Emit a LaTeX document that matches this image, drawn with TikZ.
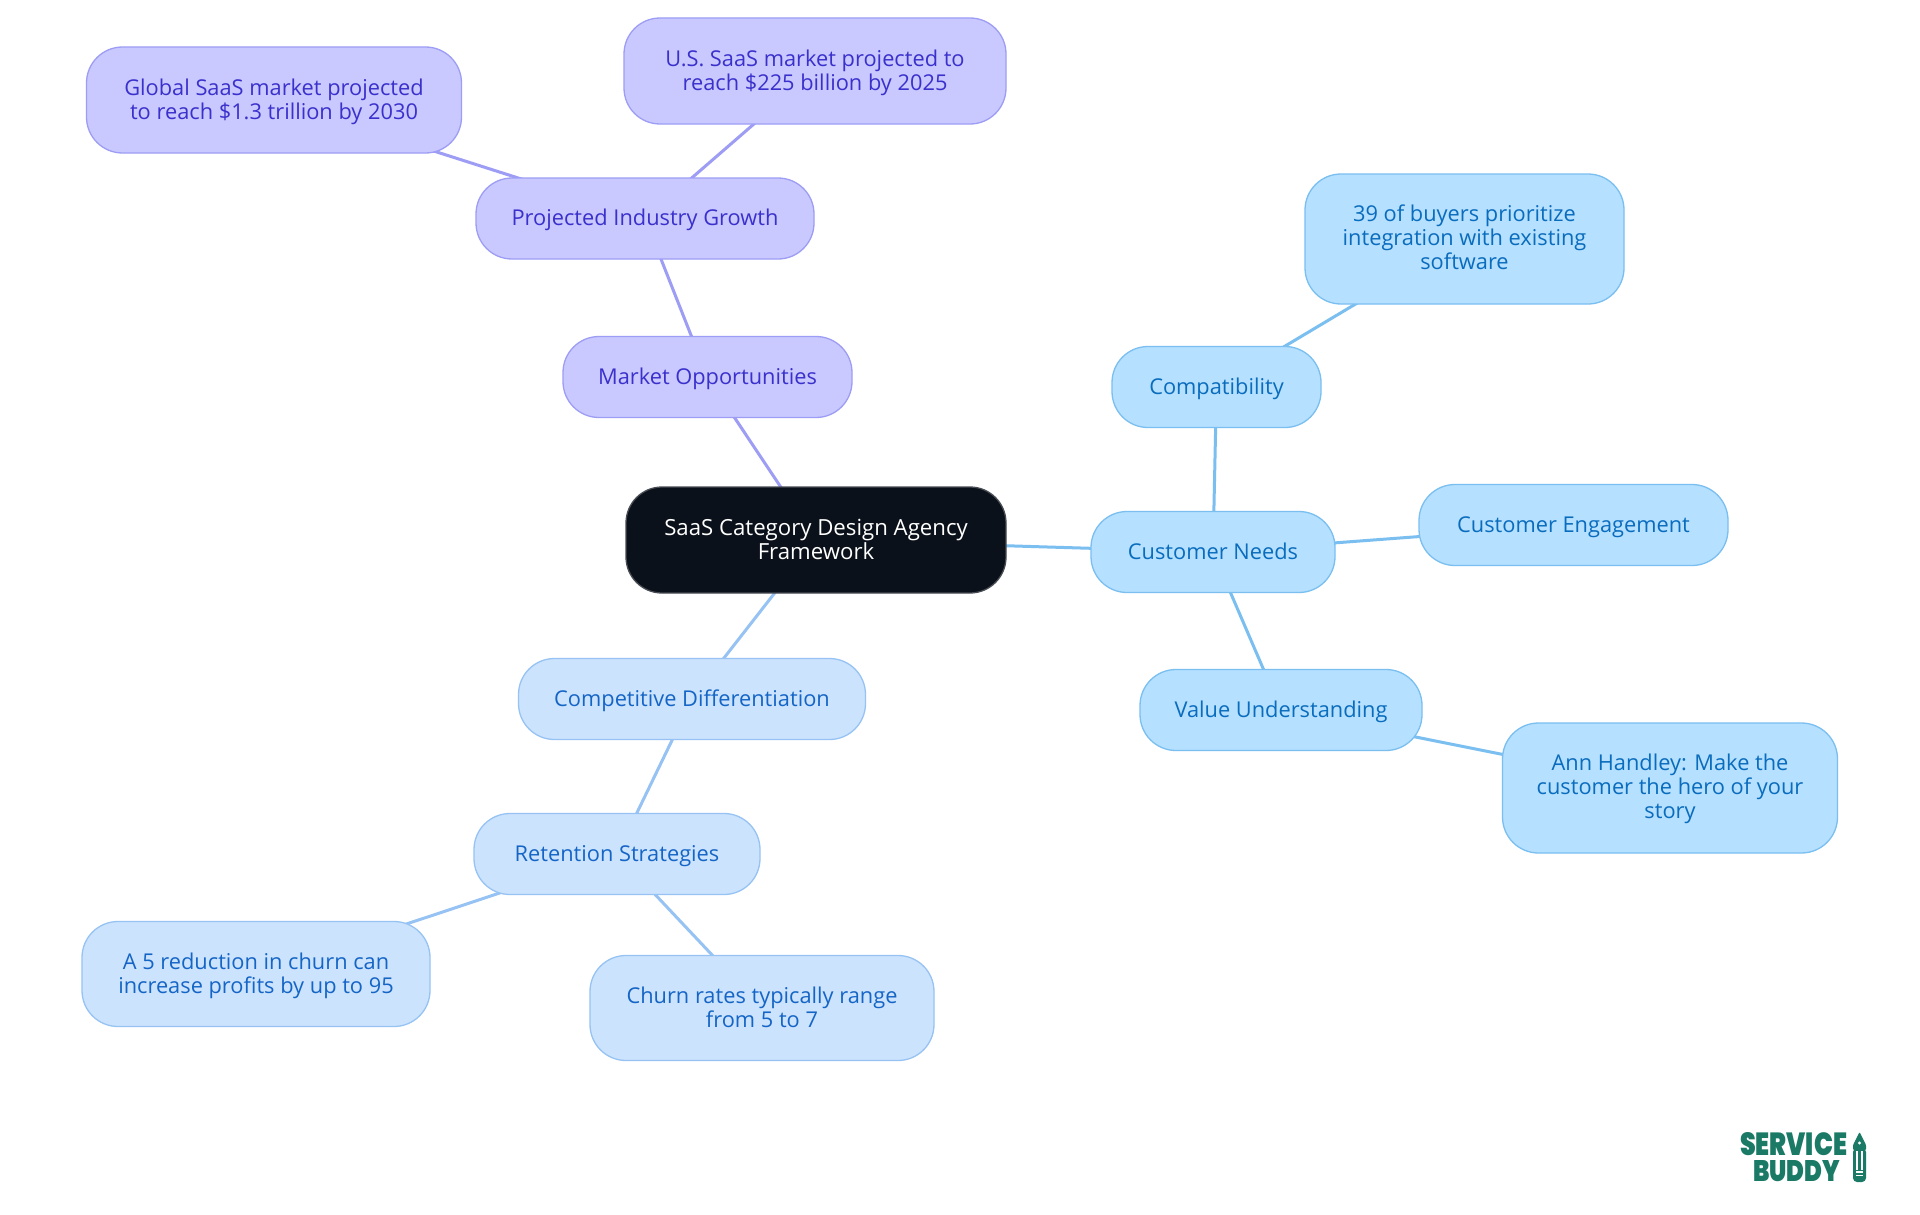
\documentclass[tikz,border=0pt]{standalone}
\usepackage{fontspec}
\usepackage{graphicx}
\setmainfont{Open Sans}
\newfontfamily\logofont{Poppins}[UprightFont=* Black]
\usetikzlibrary{backgrounds}
\newcommand{\twoup}{\rule{0pt}{20pt}}
\newcommand{\threeup}{\rule{0pt}{18pt}}
\newcommand{\lastdn}{\rule[-5pt]{0pt}{5pt}}
\definecolor{purF}{HTML}{C9C9FF}\definecolor{purD}{HTML}{9D9DF5}\definecolor{purT}{HTML}{3A30CC}
\definecolor{skyF}{HTML}{B5E0FF}\definecolor{skyD}{HTML}{7ABFF0}\definecolor{skyT}{HTML}{0A6CBD}
\definecolor{palF}{HTML}{CCE3FD}\definecolor{palD}{HTML}{96C3F3}\definecolor{palT}{HTML}{1565C6}
\definecolor{darkF}{HTML}{0B111A}\definecolor{logoG}{HTML}{1B7A66}
\tikzset{
 x=1pt,y=-1pt,
 mm/.style={rectangle,rounded corners=36pt,line width=1.3pt,align=center,inner sep=0pt,
   font=\fontsize{21.8}{24}\selectfont,
   execute at begin node={\rule{0pt}{19.5pt}},execute at end node={\rule[-5pt]{0pt}{5pt}}},
 pur/.style={mm,fill=purF,draw=purD,text=purT},
 sky/.style={mm,fill=skyF,draw=skyD,text=skyT},
 pal/.style={mm,fill=palF,draw=palD,text=palT},
 rootbox/.style={mm,fill=darkF,draw=darkF!75!white,text=white,font=\fontsize{22.2}{24}\selectfont},
 purE/.style={draw=purD,line width=3pt},
 skyE/.style={draw=skyD,line width=3pt},
 palE/.style={draw=palD,line width=3pt},
 sz/.style 2 args={minimum width=#1pt,minimum height=#2pt},
}
\begin{document}
\begin{tikzpicture}
\useasboundingbox (0,0) rectangle (1920,1215);
\node[rootbox,sz={380}{106}] (root) at (816,540) {\twoup SaaS Category Design Agency\\Framework\lastdn};
\node[pur,sz={289}{81}] (market) at (707.5,377) {Market Opportunities};
\node[pur,sz={338}{81}] (growth) at (645,218.5) {Projected Industry Growth};
\node[pur,sz={375}{106}] (global) at (274,100) {\twoup Global SaaS market projected\\to reach \$1.3 trillion by 2030\lastdn};
\node[pur,sz={382}{106}] (us) at (815,71) {\twoup U.S. SaaS market projected to\\reach \$225 billion by 2025\lastdn};
\node[sky,sz={209}{81}] (compat) at (1216.5,387) {Compatibility};
\node[sky,sz={319}{130}] (buyers) at (1464.5,239) {\threeup 39 of buyers prioritize\\integration with existing\\software\lastdn};
\node[sky,sz={244}{81}] (needs) at (1213,552) {Customer Needs};
\node[sky,sz={309}{81}] (engage) at (1573.5,525) {Customer Engagement};
\node[sky,sz={282}{81}] (value) at (1281,710) {Value Understanding};
\node[sky,sz={335}{130}] (ann) at (1670,788) {\threeup Ann Handley: Make the\\customer the hero of your\\story\lastdn};
\node[pal,sz={347}{81}] (compet) at (692,699) {Competitive Differentiation};
\node[pal,sz={286}{81}] (retain) at (617,854) {Retention Strategies};
\node[pal,sz={348}{105}] (five) at (256,974) {\twoup A 5 reduction in churn can\\increase profits by up to 95\lastdn};
\node[pal,sz={344}{105}] (churn) at (762,1008) {\twoup Churn rates typically range\\from 5 to 7\lastdn};
\begin{scope}[on background layer]
\fill[white] (0,0) rectangle (1920,1215);
\draw[purE] (root.center)--(market.center);
\draw[purE] (market.center)--(growth.center);
\draw[purE] (growth.center)--(global.center);
\draw[purE] (growth.center)--(us.center);
\draw[skyE] (root.center)--(needs.center);
\draw[skyE] (needs.center)--(compat.center);
\draw[skyE] (compat.center)--(buyers.center);
\draw[skyE] (needs.center)--(engage.center);
\draw[skyE] (needs.center)--(value.center);
\draw[skyE] (value.center)--(ann.center);
\draw[palE] (root.center)--(compet.center);
\draw[palE] (compet.center)--(retain.center);
\draw[palE] (retain.center)--(five.center);
\draw[palE] (retain.center)--(churn.center);
\end{scope}
\node[text=logoG,inner sep=0pt] (logoa) at (1793.5,1144.5) {\resizebox{107pt}{23pt}{\logofont SERVICE}};
\node[text=logoG,inner sep=0pt] (logob) at (1796.5,1171) {\resizebox{87pt}{21pt}{\logofont BUDDY}};
% pencil
\fill[logoG,rounded corners=1pt] (1853,1150)--(1853,1145)--(1859.5,1132)--(1866,1145)--(1866,1150)--cycle;
\fill[logoG,rounded corners=4pt] (1853,1148)--(1853,1182)--(1866,1182)--(1866,1148)--cycle;
\fill[white] (1859.5,1143) circle (1.6pt);
\draw[white,line width=1.2pt] (1857,1151)--(1857,1170) (1862,1151)--(1862,1170);
\draw[white,line width=1.1pt] (1856,1172)--(1863,1172) (1856,1175.5)--(1863,1175.5);
\end{tikzpicture}
\end{document}
